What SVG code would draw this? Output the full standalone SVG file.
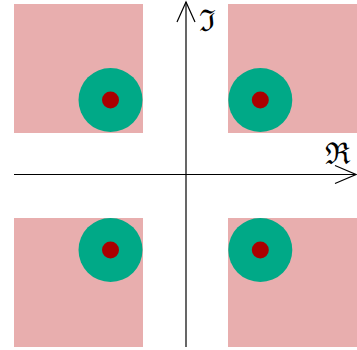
<svg xmlns="http://www.w3.org/2000/svg" width="357" height="350" viewBox="0 0 357 350">
<style>
.q{fill:#e8aeae}
.o{fill:#00a987}
.i{fill:#aa0000}
.ax{stroke:#000;stroke-width:1.2;fill:none}
.lb{font-family:"DejaVu Serif",serif;font-size:30px;fill:#000}
</style>
<rect width="357" height="350" fill="#fff"/>
<g id="q1"><rect class="q" x="14" y="4" width="129" height="129"/><circle class="o" cx="110.5" cy="100" r="32"/><circle class="i" cx="110.5" cy="100" r="8.5"/></g>
<g id="q2"><rect class="q" x="228" y="4" width="129" height="129"/><circle class="o" cx="260.3" cy="100" r="32"/><circle class="i" cx="260.3" cy="100" r="8.5"/></g>
<g id="q3"><rect class="q" x="14" y="218" width="129" height="129"/><circle class="o" cx="110.5" cy="250" r="32"/><circle class="i" cx="110.5" cy="250" r="8.5"/></g>
<g id="q4"><rect class="q" x="228" y="218" width="129" height="129"/><circle class="o" cx="260.3" cy="250" r="32"/><circle class="i" cx="260.3" cy="250" r="8.5"/></g>
<g id="axes">
<path class="ax" d="M14 174.5H356"/>
<path class="ax" d="M335 165.5L356 174.5L335 183.5"/>
<path class="ax" d="M186 347V2"/>
<path class="ax" d="M177 22L186 2L195 22"/>
</g>
<text class="lb" x="199" y="31">ℑ</text>
<text class="lb" x="325" y="164">ℜ</text>
</svg>
